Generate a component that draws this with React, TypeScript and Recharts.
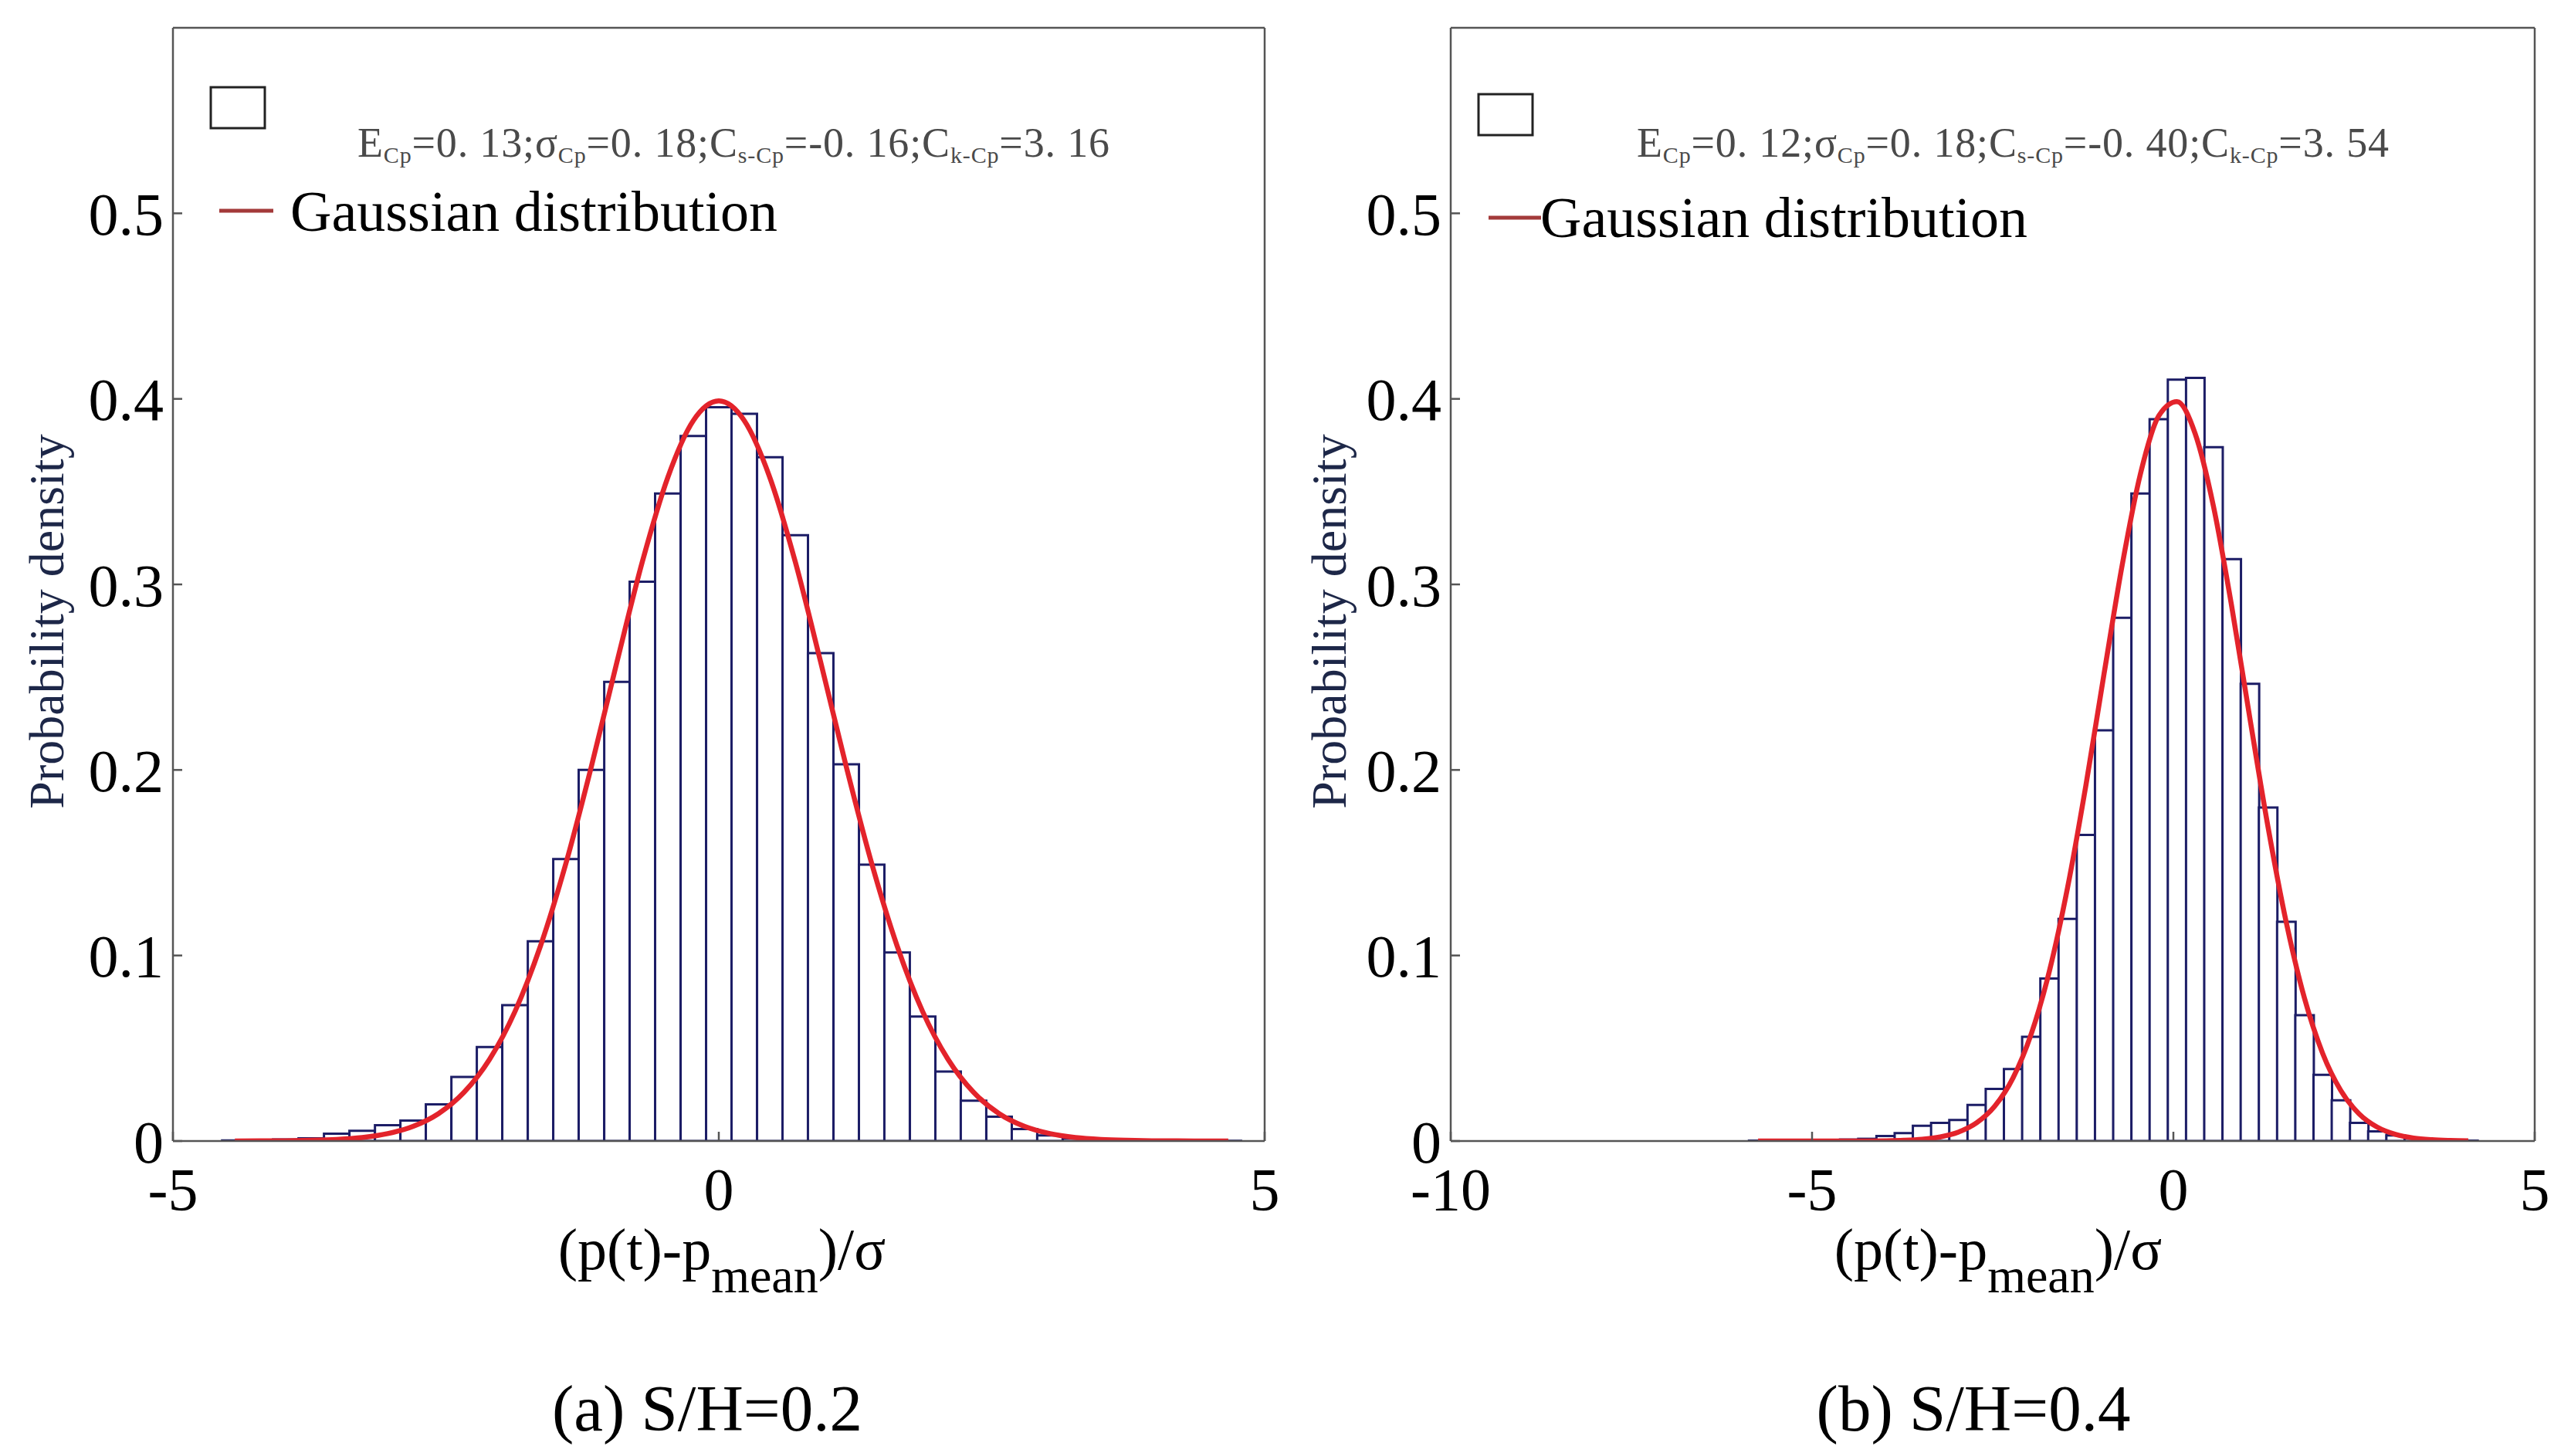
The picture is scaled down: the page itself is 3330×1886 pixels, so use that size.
import React from 'react';
import { Bar, ComposedChart, Line, XAxis, YAxis } from 'recharts';

const FONT = '"Liberation Serif", "Times New Roman", serif';

// (a) S/H=0.2 : 40 histogram bins
const binCentersA = [
  -4.433, -4.2, -3.967, -3.733, -3.5, -3.267, -3.033, -2.8, -2.567, -2.333,
  -2.1, -1.867, -1.633, -1.4, -1.167, -0.933, -0.7, -0.467, -0.233, 0,
  0.233, 0.467, 0.7, 0.933, 1.167, 1.4, 1.633, 1.867, 2.1, 2.333,
  2.567, 2.8, 3.033, 3.267, 3.5, 3.733, 3.967, 4.2, 4.433, 4.667,
];
const densityA = [
  0.0003, 0.0004, 0.0008, 0.0015, 0.004, 0.0055, 0.0085, 0.011, 0.0198, 0.0345,
  0.0507, 0.0732, 0.1077, 0.152, 0.2, 0.2475, 0.3015, 0.349, 0.38, 0.3955,
  0.392, 0.3686, 0.3265, 0.263, 0.203, 0.149, 0.1016, 0.0671, 0.0375, 0.0217,
  0.0131, 0.0064, 0.003, 0.0015, 0.0008, 0.0004, 0.0002, 0.0001, 0.0001, 0.0001,
];
const gaussA = [
  0.00002, 0.00006, 0.00015, 0.00038, 0.00087, 0.0019, 0.004, 0.0079, 0.0148, 0.0263,
  0.044, 0.0698, 0.1052, 0.1497, 0.2019, 0.2582, 0.3123, 0.3577, 0.3883, 0.3989,
  0.3883, 0.3577, 0.3123, 0.2582, 0.2019, 0.1497, 0.1052, 0.0698, 0.044, 0.0263,
  0.0148, 0.0079, 0.004, 0.0019, 0.00087, 0.00038, 0.00015, 0.00006, 0.00002, 0.00001,
];

// (b) S/H=0.4 : 40 histogram bins
const binCentersB = [
  -5.747, -5.495, -5.243, -4.991, -4.739, -4.487, -4.235, -3.983, -3.731, -3.479,
  -3.227, -2.975, -2.723, -2.471, -2.219, -1.967, -1.715, -1.463, -1.211, -0.959,
  -0.707, -0.455, -0.203, 0.049, 0.301, 0.553, 0.805, 1.057, 1.309, 1.561,
  1.813, 2.065, 2.317, 2.569, 2.821, 3.073, 3.325, 3.577, 3.829, 4.081,
];
const densityB = [
  0.0002, 0.0002, 0.0002, 0.0003, 0.0004, 0.0008, 0.0012, 0.0027, 0.0043, 0.0082,
  0.0098, 0.0113, 0.0195, 0.0281, 0.0388, 0.0562, 0.0876, 0.1197, 0.165, 0.2214,
  0.282, 0.349, 0.389, 0.4104, 0.4113, 0.374, 0.3136, 0.2464, 0.1798, 0.1182,
  0.0678, 0.0357, 0.022, 0.0098, 0.0052, 0.003, 0.0015, 0.0006, 0.0003, 0.0002,
];
const gaussB = [
  0, 0, 0, 0.00001, 0.00001, 0.00002, 0.00005, 0.00014, 0.00038, 0.00094,
  0.0022, 0.0048, 0.0098, 0.0188, 0.034, 0.0577, 0.0917, 0.1368, 0.1916, 0.2519,
  0.3107, 0.3597, 0.3908, 0.3985, 0.3813, 0.3424, 0.2886, 0.2282, 0.1694, 0.118,
  0.0771, 0.0473, 0.0272, 0.0147, 0.0075, 0.0036, 0.0016, 0.0007, 0.0003, 0.0001,
];

const yTicks = [0, 0.1, 0.2, 0.3, 0.4, 0.5];
const xTicksA = [-5, 0, 5];
const xTicksB = [-10, -5, 0, 5];

const statsA = ['0. 13', '0. 18', '-0. 16', '3. 16'];
const statsB = ['0. 12', '0. 18', '-0. 40', '3. 54'];

const rowsA = binCentersA.map((x, i) => ({ x, density: densityA[i], gauss: gaussA[i] }));
const rowsB = binCentersB.map((x, i) => ({ x, density: densityB[i], gauss: gaussB[i] }));

const axisStroke = { stroke: '#555', strokeWidth: 2.5 };
const tickFont = { fill: '#000', fontSize: 78, fontFamily: FONT };

type HistProps = {
  rows: Array<{ x: number; density: number; gauss: number }>;
  xDomain: [number, number];
  xTicks: number[];
  left: number;
  margin: { top: number; right: number; bottom: number; left: number };
};

function Histogram({ rows, xDomain, xTicks, left, margin }: HistProps) {
  return (
    <div style={{ position: 'absolute', left, top: 0 }}>
      <ComposedChart width={1665} height={1886} data={rows} margin={margin} barCategoryGap={0} barGap={0}>
        <XAxis dataKey="x" type="number" domain={xDomain} ticks={xTicks} interval={0} allowDataOverflow
          height={100} tickSize={-12} tickMargin={46} axisLine={axisStroke} tickLine={axisStroke} tick={tickFont} />
        <XAxis xAxisId="t" orientation="top" type="number" domain={xDomain} ticks={xTicks} interval={0} allowDataOverflow
          height={5} tickSize={-12} axisLine={axisStroke} tickLine={axisStroke} tick={false} />
        <YAxis type="number" domain={[0, 0.6]} ticks={yTicks} interval={0} allowDataOverflow
          width={100} tickSize={-12} tickMargin={24} axisLine={axisStroke} tickLine={axisStroke} tick={tickFont} />
        <YAxis yAxisId="r" orientation="right" type="number" domain={[0, 0.6]} ticks={yTicks} interval={0} allowDataOverflow
          width={5} tickSize={-12} axisLine={axisStroke} tickLine={axisStroke} tick={false} />
        <Bar dataKey="density" fill="#fff" stroke="#1c1d66" strokeWidth={3} isAnimationActive={false} />
        <Line dataKey="gauss" type="monotone" stroke="#e3232b" strokeWidth={6.5} dot={false} isAnimationActive={false} />
      </ComposedChart>
    </div>
  );
}

function Stats({ x, vals }: { x: number; vals: string[] }) {
  const sub = { fontSize: 30, dy: 8 };
  const back = { fontSize: 54, dy: -8 };
  return (
    <text x={x} y={203} fill="#4a4a4a" fontFamily={FONT} fontSize={54} textLength={974} lengthAdjust="spacing">
      E<tspan {...sub}>Cp</tspan><tspan {...back}>={vals[0]};σ</tspan>
      <tspan {...sub}>Cp</tspan><tspan {...back}>={vals[1]};C</tspan>
      <tspan {...sub}>s-Cp</tspan><tspan {...back}>={vals[2]};C</tspan>
      <tspan {...sub}>k-Cp</tspan><tspan {...back}>={vals[3]}</tspan>
    </text>
  );
}

function Labels({ ox, box, line, legendY, textX, statsX, yTitleX, xTitleX, caption, captionX }: any) {
  return (
    <g>
      <rect x={box[0]} y={box[1]} width={70} height={53} fill="none" stroke="#222" strokeWidth={3} />
      <Stats x={statsX} vals={ox} />
      <line x1={line[0]} x2={line[1]} y1={line[2]} y2={line[2]} stroke="#a33a3a" strokeWidth={5} />
      <text x={textX} y={legendY} fontFamily={FONT} fontSize={74} fill="#000">Gaussian distribution</text>
      <text transform={`translate(${yTitleX},805) rotate(-90)`} textAnchor="middle" fontFamily={FONT} fontSize={64} fill="#1d2748">
        Probability density
      </text>
      <text x={xTitleX} y={1644} textAnchor="middle" fontFamily={FONT} fontSize={76} fill="#000">
        (p(t)-p<tspan fontSize={64} dy={30}>mean</tspan><tspan fontSize={76} dy={-30}>)/σ</tspan>
      </text>
      <text x={captionX} y={1853} textAnchor="middle" fontFamily={FONT} fontSize={85} fill="#000">{caption}</text>
    </g>
  );
}

export default function App() {
  return (
    <div style={{ position: 'absolute', left: 0, top: 0, width: 3330, height: 1886, background: '#fff', overflow: 'hidden' }}>
      <Histogram rows={rowsA} xDomain={[-5, 5]} xTicks={xTicksA} left={0}
        margin={{ top: 31, right: 22, bottom: 308, left: 124 }} />
      <Histogram rows={rowsB} xDomain={[-10, 5]} xTicks={xTicksB} left={1665}
        margin={{ top: 31, right: 42, bottom: 308, left: 114 }} />
      <svg width={3330} height={1886} style={{ position: 'absolute', left: 0, top: 0, pointerEvents: 'none' }}>
        <Labels ox={statsA} box={[273, 113]} line={[284, 354, 273]} legendY={299} textX={376} statsX={463}
          yTitleX={82} xTitleX={935} caption="(a) S/H=0.2" captionX={916} />
        <Labels ox={statsB} box={[1915, 122]} line={[1928, 1996, 282]} legendY={307} textX={1995} statsX={2120}
          yTitleX={1743} xTitleX={2588} caption="(b) S/H=0.4" captionX={2556} />
      </svg>
    </div>
  );
}
